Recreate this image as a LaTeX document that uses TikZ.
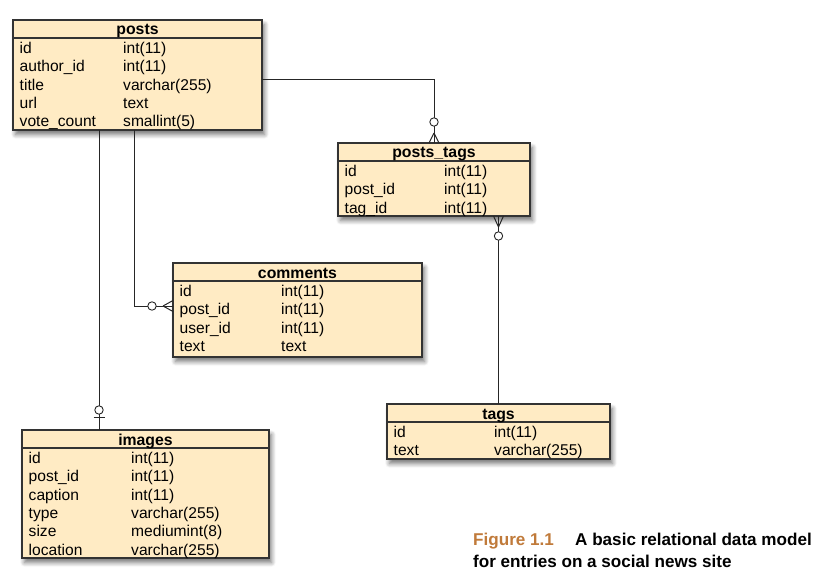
\documentclass[tikz,border=0pt]{standalone}
\usepackage{fontspec}
\setmainfont{Liberation Sans}
\usetikzlibrary{calc,shadows.blur}
\definecolor{tblfill}{HTML}{FFEBC4}
\definecolor{tbldraw}{HTML}{333333}
\definecolor{figcol}{HTML}{C07A3A}
\tikzset{
  tbl/.style={draw=tbldraw, line width=1.2pt, fill=tblfill, rectangle, inner sep=0pt, outer sep=0pt,
    blur shadow={shadow xshift=2.5pt, shadow yshift=-4.5pt, shadow blur steps=8, shadow blur radius=4.5pt, shadow opacity=55}},
  hdr/.style={font=\fontsize{15.8}{17}\selectfont\bfseries, inner sep=0pt},
  fld/.style={font=\fontsize{15.6}{17}\selectfont, inner sep=0pt},
  conn/.style={draw=black!85, line width=1pt},
  ring/.style={draw=black!85, line width=0.9pt, fill=white},
  capt/.style={font=\fontsize{17.1}{20}\selectfont\bfseries, inner sep=0pt, anchor=base west},
}
\newcommand\ertable[8]{%
  \node[tbl, anchor=north west, minimum width=#4pt, minimum height=#5pt] (#1) at (#2,#3) {};
  \draw[draw=tbldraw, line width=1.2pt] ([yshift=-18pt]#1.north west) -- ([yshift=-18pt]#1.north east);
  \node[hdr, anchor=base] (#1-title) at ($(#1.north)+(0,15)$) {#6};
  \foreach \fn/\ft [count=\i] in {#8} {
    \node[fld, anchor=base west] (#1-n\i) at ($(#1.north west)+(6.5,{15.2+18.3*\i})$) {\fn};
    \node[fld, anchor=base west] (#1-t\i) at ($(#1.north west)+(#7,{15.2+18.3*\i})$) {\ft};
  }
}
\begin{document}
\begin{tikzpicture}[x=1pt,y=-1pt]
\useasboundingbox (0,0) rectangle (837,588);
% tables
\ertable{posts}{13}{20}{249}{110}{posts}{110}{id/int(11), author\_id/int(11), title/varchar(255), url/text, vote\_count/smallint(5)}
\ertable{pt}{338}{143}{192}{73}{posts\_tags}{106}{id/int(11), post\_id/int(11), tag\_id/int(11)}
\ertable{cm}{173}{263}{249}{94}{comments}{108}{id/int(11), post\_id/int(11), user\_id/int(11), text/text}
\ertable{img}{22}{430}{247}{128}{images}{109}{id/int(11), post\_id/int(11), caption/int(11), type/varchar(255), size/mediumint(8), location/varchar(255)}
\ertable{tags}{387}{404}{223}{55}{tags}{107}{id/int(11), text/varchar(255)}
% posts -> posts_tags
\coordinate (c1) at ([yshift=-60pt]posts.north east);
\draw[conn] (c1) -| (pt.north);
\draw[conn] ($(pt.north)+(0,-10)$) -- ($(pt.north)+(-5,0)$);
\draw[conn] ($(pt.north)+(0,-10)$) -- ($(pt.north)+(5,0)$);
\draw[ring] ($(pt.north)+(0,-21)$) circle[radius=4.2pt];
% posts_tags -> tags
\coordinate (c2) at (tags.north |- pt.south);
\draw[conn] (c2) -- (tags.north);
\draw[conn] ($(c2)+(0,11)$) -- ($(c2)+(-5,0)$);
\draw[conn] ($(c2)+(0,11)$) -- ($(c2)+(5,0)$);
\draw[ring] ($(c2)+(0,20)$) circle[radius=4.2pt];
% posts -> comments
\coordinate (c3) at ([xshift=121pt]posts.south west);
\coordinate (c4) at ([yshift=-43pt]cm.north west);
\draw[conn] (c3) |- (c4);
\draw[conn] ($(c4)+(-10,0)$) -- ($(c4)+(0,-5.5)$);
\draw[conn] ($(c4)+(-10,0)$) -- ($(c4)+(0,5.5)$);
\draw[ring] ($(c4)+(-21,0)$) circle[radius=4.2pt];
% posts -> images
\coordinate (c5) at ([xshift=86pt]posts.south west);
\coordinate (c6) at (c5 |- img.north);
\draw[conn] (c5) -- (c6);
\draw[conn] ($(c6)+(-5.5,-13)$) -- ($(c6)+(5.5,-13)$);
\draw[ring] ($(c6)+(0,-20)$) circle[radius=4.2pt];
% caption
\node[capt, text=figcol] (fig) at (473,545) {Figure 1.1};
\node[capt] (cap1) at (575,545) {A basic relational data model};
\node[capt] (cap2) at (473,567) {for entries on a social news site};
\end{tikzpicture}
\end{document}
